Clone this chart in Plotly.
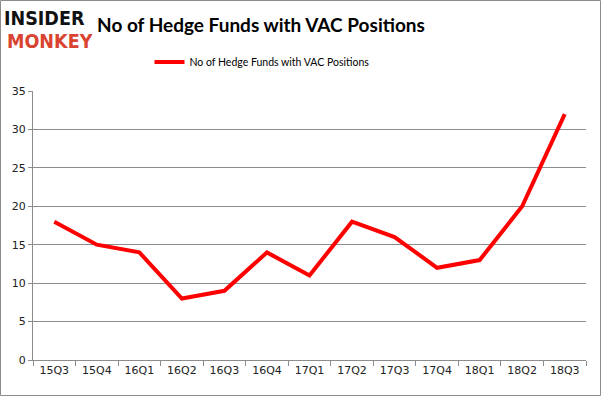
import plotly.graph_objects as go

quarters = ["15Q3", "15Q4", "16Q1", "16Q2", "16Q3", "16Q4", "17Q1", "17Q2", "17Q3", "17Q4", "18Q1", "18Q2", "18Q3"]
funds = [18, 15, 14, 8, 9, 14, 11, 18, 16, 12, 13, 20, 32]
series_name = "No of Hedge Funds with VAC Positions"
y_ticks = [0, 5, 10, 15, 20, 25, 30, 35]

W, H = 601, 396
L, R, T, B = 33, 15, 91, 36
pw, ph = W - L - R, H - T - B

fig = go.Figure()
fig.add_trace(go.Scatter(x=quarters, y=funds, mode="lines", name=series_name,
                         line=dict(color="#ff0000", width=4)))

def px_x(x):
    return (x - L) / pw

def px_y(y):
    return (H - B - y) / ph

fig.add_shape(type="rect", xref="paper", yref="paper",
              x0=px_x(0.5), x1=px_x(W - 0.5), y0=px_y(H - 0.5), y1=px_y(0.5),
              line=dict(color="#8c8c8c", width=1), layer="below")

fig.update_layout(
    width=W, height=H,
    margin=dict(l=L, r=R, t=T, b=B, autoexpand=False),
    paper_bgcolor="white", plot_bgcolor="white",
    showlegend=True,
    legend=dict(orientation="h", x=px_x(262), xanchor="center", y=px_y(62), yanchor="middle",
                font=dict(family="Lato", size=10.5, color="#000"),
                itemwidth=30),
    title=dict(text="<b>No of Hedge Funds with VAC Positions</b>",
               x=px_x(261), xanchor="center", xref="paper", y=1 - 25 / H, yanchor="middle",
               font=dict(family="Lato", size=19, color="#000")),
    xaxis=dict(type="category", tickson="boundaries", ticks="outside", ticklen=5,
               tickcolor="#8c8c8c", showline=True, linecolor="#8c8c8c", showgrid=False,
               automargin=False,
               tickfont=dict(family="DejaVu Sans", size=11, color="#222"),
               range=[-0.5, len(quarters) - 0.5]),
    yaxis=dict(range=[0, 35], tickvals=y_ticks, ticks="outside", ticklen=4,
               tickcolor="#8c8c8c", showline=True, linecolor="#8c8c8c",
               showgrid=True, gridcolor="#8c8c8c", gridwidth=1, zeroline=False,
               automargin=False,
               tickfont=dict(family="DejaVu Sans", size=11, color="#222")),
    annotations=[
        dict(text="<b>INSIDER</b>", xref="paper", yref="paper", x=px_x(3), y=px_y(18),
             xanchor="left", yanchor="middle", showarrow=False, borderpad=0, height=20,
             font=dict(family="DejaVu Sans Condensed", size=19.5, color="#111")),
        dict(text="<b>MONKEY</b>", xref="paper", yref="paper", x=px_x(6), y=px_y(41),
             xanchor="left", yanchor="middle", showarrow=False, borderpad=0, height=20,
             font=dict(family="DejaVu Sans Condensed", size=19.5, color="#d9432f")),
    ],
)

fig.write_html("out.html", config={"displayModeBar": False},
               post_script="document.body.style.margin='0';")
